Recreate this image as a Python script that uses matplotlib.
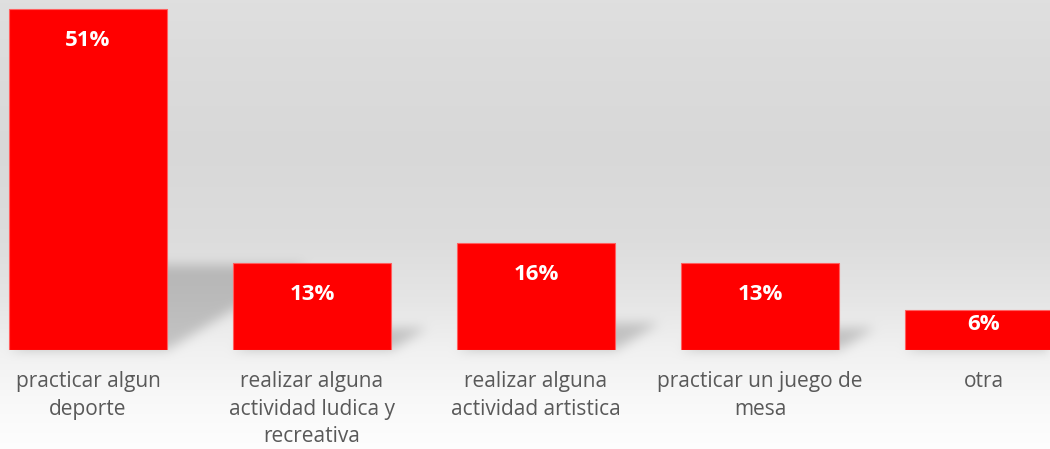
import numpy as np
import matplotlib
matplotlib.use("Agg")
import matplotlib.pyplot as plt
from matplotlib.path import Path

categories = ["practicar algun\ndeporte",
              "realizar alguna\nactividad ludica y\nrecreativa",
              "realizar alguna\nactividad artistica",
              "practicar un juego de\nmesa",
              "otra"]
values = [51, 13, 16, 13, 6]
labels = ["51%", "13%", "16%", "13%", "6%"]

W, H = 1050, 449
fig = plt.figure(figsize=(W / 100, H / 100), dpi=100)
plt.rcParams['font.family'] = ['Open Sans', 'DejaVu Sans']

bg = fig.add_axes([0, 0, 1, 1], zorder=0)
bg.set_axis_off()

ax = fig.add_axes([0, 1 - 350 / H, 1, 350 / H], zorder=1)
ax.patch.set_alpha(0)
x = np.arange(len(values))
bw = 0.705
ppu = 6.686  # pixels per percent
ax.set_xlim(-88 / 224, (W - 88) / 224)
ax.set_ylim(0, 350 / ppu)
bars = ax.bar(x, values, width=bw, color="#ff0000", edgecolor="#ff6060", linewidth=0.8, zorder=3)
for xi, v, lab in zip(x, values, labels):
    hpx = v * ppu
    off_px = 31 if hpx > 70 else hpx - 26
    ax.annotate(lab, (xi, v), xytext=(0, -off_px * 0.72), textcoords="offset points",
                ha="center", va="center", color="white", fontsize=16, fontweight="bold",
                zorder=4)
ax.set_xticks(x)
ax.set_xticklabels(categories, color="#595959", fontsize=15, linespacing=1.42)
ax.tick_params(axis="x", length=0, pad=15)
ax.set_yticks([])
for s in ax.spines.values():
    s.set_visible(False)

# background gradient + blurred perspective shadows (derived from bar geometry)
fig.canvas.draw()
stops_y = [0, 60, 150, 240, 300, 350, 400, 449]
stops_c = [0.875, 0.862, 0.848, 0.865, 0.900, 0.945, 0.975, 0.995]
grad = np.interp(np.arange(H), stops_y, stops_c)[:, None] * np.ones((1, W))

mask = np.zeros((H, W))
gx, gy = np.meshgrid(np.arange(W) + 0.5, np.arange(H) + 0.5)
pts = np.column_stack([gx.ravel(), (H - gy).ravel()])
for xi, v in zip(x, values):
    s = 0.25 * v
    dx = 0.049 * s
    poly = [(xi - bw / 2, 0), (xi + bw / 2, 0), (xi + bw / 2 + dx, s), (xi - bw / 2 + dx, s)]
    pp = ax.transData.transform(poly)
    inside = Path(pp).contains_points(pts).reshape(H, W)
    mask = np.maximum(mask, inside.astype(float))


def box_blur(a, r):
    k = np.ones(2 * r + 1) / (2 * r + 1)
    a = np.apply_along_axis(lambda m: np.convolve(m, k, mode="same"), 0, a)
    a = np.apply_along_axis(lambda m: np.convolve(m, k, mode="same"), 1, a)
    return a


for _ in range(3):
    mask = box_blur(mask, 5)
shade = 0.70
img = grad * (1 - mask * (1 - shade / 0.86))
img = np.clip(img, 0, 1)
rgb = np.dstack([img, img, img])
bg.imshow(rgb, extent=(0, W, 0, H), origin="upper", aspect="auto", interpolation="bilinear")
bg.set_xlim(0, W)
bg.set_ylim(0, H)

fig.savefig("out.png", dpi=100)
